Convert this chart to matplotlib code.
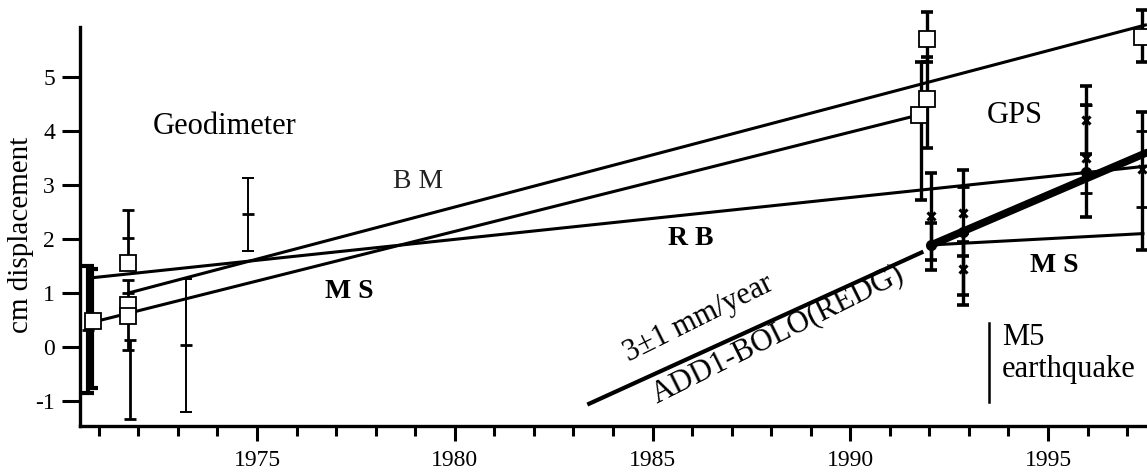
import matplotlib
matplotlib.use("Agg")
import matplotlib.pyplot as plt
import numpy as np

plt.rcParams['font.family'] = ['Liberation Serif', 'DejaVu Serif']

# ---------------- data ----------------
# fitted lines (year, cm)
bm_x = [1971.75, 1997.5]
bm_y = [1.00, 5.97]
ms_geo_x = [1970.85, 1991.75]
ms_geo_y = [0.46, 4.30]
rb_x = [1970.80, 1997.5]
rb_y = [1.28, 3.35]
ms_gps_thick_x = [1992.05, 1997.5]
ms_gps_thick_y = [1.89, 3.60]
ms_gps_thin_x = [1992.05, 1997.4]
ms_gps_thin_y = [1.89, 2.10]
rate_line_x = [1983.4, 1991.8]
rate_line_y = [-1.05, 1.75]
quake_year = 1993.5
quake_y = [-1.02, 0.45]

# error bars: year, centre, lower end, upper end
geo_bar_x = [1970.72, 1970.82, 1971.75, 1971.75, 1971.78, 1973.20, 1974.78]
geo_bar_y = [0.32, 0.62, 2.02, 0.60, -0.60, 0.04, 2.47]
geo_bar_lo = [-0.85, -0.75, 1.50, -0.05, -1.33, -1.20, 1.78]
geo_bar_hi = [1.50, 1.45, 2.54, 1.24, 0.13, 1.26, 3.13]
geo_bar_lw = [3.0, 3.0, 2.0, 2.0, 2.0, 1.4, 1.4]

gps_bar_x = [1991.95, 1991.95, 1991.78, 1992.05, 1992.05, 1992.85, 1992.85,
             1992.85, 1995.95, 1995.95, 1997.38, 1997.38]
gps_bar_y = [5.70, 4.60, 4.30, 2.42, 1.89, 2.48, 1.45, 1.45, 4.20, 3.45,
             5.75, 3.30]
gps_bar_lo = [5.28, 3.68, 2.72, 1.62, 1.43, 1.68, 0.78, 0.96, 3.57, 2.41,
              5.28, 1.80]
gps_bar_hi = [6.20, 5.37, 5.28, 3.22, 2.30, 3.28, 2.12, 1.94, 4.83, 4.48,
              6.24, 4.35]

# open squares
sq_x = [1970.85, 1971.75, 1971.75, 1971.75, 1991.75, 1991.95, 1991.95, 1997.38]
sq_y = [0.48, 1.55, 0.77, 0.57, 4.30, 4.60, 5.70, 5.75]
# small horizontal centre ticks
tick_x = [1970.72, 1971.75, 1971.75, 1973.20, 1974.78, 1992.85, 1995.95,
          1995.95, 1995.95, 1997.38, 1997.38]
tick_y = [0.32, 2.02, 1.00, 0.04, 2.47, 2.96, 4.48, 3.24, 2.85, 4.00, 2.60]
# x-shaped GPS markers
cross_x = [1992.05, 1992.85, 1992.85, 1995.95, 1995.95, 1997.38]
cross_y = [2.42, 2.48, 1.45, 4.20, 3.50, 3.30]
# filled dots
dot_x = [1992.05, 1992.85, 1995.95]
dot_y = [1.89, 2.13, 3.24]

x_major = [1975, 1980, 1985, 1990, 1995]
x_minor = list(range(1971, 1998))
y_major = [-1, 0, 1, 2, 3, 4, 5]

# ---------------- figure ----------------
W, H = 1147, 472
fig = plt.figure(figsize=(W / 100, H / 100), dpi=100)
left_px, bottom_px = 80, 426
ax = fig.add_axes([left_px / W, (H - bottom_px) / H, 1 - left_px / W, bottom_px / H])

# pixel calibration of the reference: x = 257 + 39.55*(yr-1975), y = 347 - 54*v
x0 = 1975 + (left_px - 257) / 39.55
x1 = 1975 + (W - 257) / 39.55
y0 = (347 - bottom_px) / 54
y1 = 347 / 54
ax.set_xlim(x0, x1)
ax.set_ylim(y0, y1)

k = 'black'
lw_line = 2.2
ax.plot(bm_x, bm_y, color=k, lw=lw_line, solid_capstyle='butt')
ax.plot(ms_geo_x, ms_geo_y, color=k, lw=lw_line)
ax.plot(rb_x, rb_y, color=k, lw=lw_line)
ax.plot(ms_gps_thick_x, ms_gps_thick_y, color=k, lw=5.5, solid_capstyle='round')
ax.plot(ms_gps_thin_x, ms_gps_thin_y, color=k, lw=lw_line)
ax.plot(rate_line_x, rate_line_y, color=k, lw=3.0)
ax.plot([quake_year, quake_year], quake_y, color=k, lw=1.8)

for x, y, lo, hi, lw in zip(geo_bar_x, geo_bar_y, geo_bar_lo, geo_bar_hi, geo_bar_lw):
    ax.errorbar([x], [y], yerr=[[y - lo], [hi - y]], fmt='none', ecolor=k,
                elinewidth=lw, capsize=4.5, capthick=lw)
for x, y, lo, hi in zip(gps_bar_x, gps_bar_y, gps_bar_lo, gps_bar_hi):
    ax.errorbar([x], [y], yerr=[[y - lo], [hi - y]], fmt='none', ecolor=k,
                elinewidth=2.4, capsize=4.5, capthick=2.6)

ax.plot(sq_x, sq_y, linestyle='none', marker='s', markersize=12,
        markerfacecolor='white', markeredgecolor=k, markeredgewidth=1.3)
ax.plot(tick_x, tick_y, linestyle='none', marker='_', markersize=9,
        markeredgewidth=2.0, color=k)
ax.plot(cross_x, cross_y, linestyle='none', marker='x', markersize=6,
        markeredgewidth=2.2, color=k)
ax.plot(dot_x, dot_y, linestyle='none', marker='o', markersize=7, color=k)

# ---------------- text ----------------
fs = 22
ax.text(1972.37, 3.94, 'Geodimeter', fontsize=fs, va='baseline', ha='left')
ax.text(1993.46, 4.15, 'GPS', fontsize=fs, va='baseline', ha='left')
ax.text(1978.44, 2.94, 'B M', fontsize=20, va='baseline', ha='left', color='#222222')
ax.text(1985.39, 1.89, 'R B', fontsize=20, va='baseline', ha='left', fontweight='bold')
ax.text(1976.72, 0.91, 'M S', fontsize=20, va='baseline', ha='left', fontweight='bold')
ax.text(1994.55, 1.39, 'M S', fontsize=20, va='baseline', ha='left', fontweight='bold')
ax.text(1993.84, 0.04, 'M5', fontsize=fs, va='baseline', ha='left')
ax.text(1993.84, -0.56, 'earthquake', fontsize=fs, va='baseline', ha='left')
ax.text(1984.40, -0.28, '3\u00b11 mm/year', fontsize=fs, rotation=26.5,
        rotation_mode='anchor', va='baseline', ha='left')
ax.text(1985.11, -1.04, 'ADD1-BOLO(REDG)', fontsize=fs, rotation=26.5,
        rotation_mode='anchor', va='baseline', ha='left')

ax.set_ylabel('cm displacement', fontsize=21)
ax.yaxis.set_label_coords(-(80 - 34) / (W - 80),
                          ((347 - 235) / 54 - y0) / (y1 - y0))

# ---------------- axes styling ----------------
for s in ['top', 'right']:
    ax.spines[s].set_visible(False)
for s in ['left', 'bottom']:
    ax.spines[s].set_linewidth(2.4)
ax.spines['left'].set_bounds(y0, 5.93)

ax.set_xticks(x_major)
ax.set_xticklabels([str(v) for v in x_major])
ax.set_xticks(x_minor, minor=True)
ax.set_yticks(y_major)
ax.set_yticklabels([str(v) for v in y_major])
ax.tick_params(axis='x', which='major', direction='out', length=11, width=2.2,
               labelsize=17, pad=6)
ax.tick_params(axis='x', which='minor', direction='out', length=7, width=2.2)
ax.tick_params(axis='y', which='major', direction='out', length=13, width=2.2,
               labelsize=17, pad=5)
ax.tick_params(axis='y', which='minor', left=False)

fig.savefig('out.png', dpi=100)
